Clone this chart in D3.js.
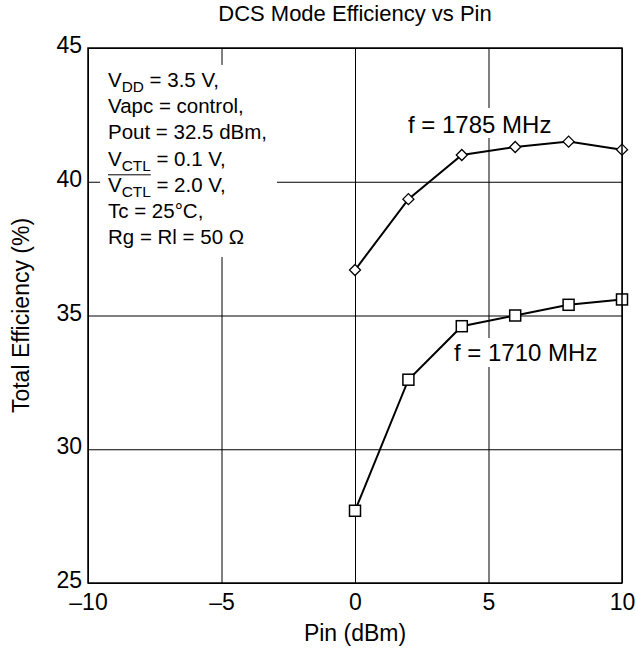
<!DOCTYPE html>
<html>
<head>
<meta charset="utf-8">
<script src="https://cdn.jsdelivr.net/npm/d3@7"></script>
<style>
  html, body { margin: 0; padding: 0; background: #fff; }
  svg { display: block; font-family: "Liberation Sans", Arial, Helvetica, sans-serif; }
</style>
</head>
<body>
<svg id="chart" width="635" height="649"></svg>
<script>
// ---- data ----
const pin = [0, 2, 4, 6, 8, 10];
const eff1785 = [36.7, 39.35, 41.0, 41.3, 41.5, 41.2];
const eff1710 = [27.7, 32.6, 34.6, 35.0, 35.4, 35.6];
const xTicks = [-10, -5, 0, 5, 10];
const yTicks = [25, 30, 35, 40, 45];
const seriesLabels = ["f = 1785 MHz", "f = 1710 MHz"];
const titleText = "DCS Mode Efficiency vs Pin";
const xTitle = "Pin (dBm)";
const yTitle = "Total Efficiency (%)";

const svg = d3.select("#chart");
const L = 88, R = 622, T = 48, B = 583;
const x = d3.scaleLinear().domain([-10, 10]).range([L, R]);
const y = d3.scaleLinear().domain([25, 45]).range([B, T]);
const fmt = d => (d < 0 ? "\u2013" + Math.abs(d) : String(d));

// grid
const gx = svg.append("g").attr("transform", `translate(0,${B})`)
  .call(d3.axisBottom(x).tickValues(xTicks).tickSize(-(B - T)).tickFormat(""));
gx.select(".domain").remove();
gx.selectAll("line").attr("stroke", "#000").attr("stroke-width", 1);
const gy = svg.append("g").attr("transform", `translate(${L},0)`)
  .call(d3.axisLeft(y).tickValues(yTicks).tickSize(-(R - L)).tickFormat(""));
gy.select(".domain").remove();
gy.selectAll("line").attr("stroke", "#000").attr("stroke-width", 1);

// white masks behind annotations
svg.append("rect").attr("x", 100).attr("y", 65).attr("width", 177).attr("height", 192).attr("fill", "#fff");
svg.append("rect").attr("x", 404).attr("y", 108).attr("width", 154).attr("height", 30).attr("fill", "#fff");
svg.append("rect").attr("x", 450).attr("y", 338).attr("width", 152).attr("height", 29).attr("fill", "#fff");

// axis tick labels
const ax = svg.append("g").attr("transform", `translate(0,${B})`)
  .call(d3.axisBottom(x).tickValues(xTicks).tickSize(0).tickPadding(11).tickFormat(fmt));
ax.select(".domain").remove();
ax.selectAll("text").attr("font-size", 23).attr("font-family", "Liberation Sans, Arial, sans-serif").attr("fill", "#000");
const ay = svg.append("g").attr("transform", `translate(${L},0)`)
  .call(d3.axisLeft(y).tickValues(yTicks).tickSize(0).tickPadding(6).tickFormat(fmt));
ay.select(".domain").remove();
ay.selectAll("text").attr("font-size", 23).attr("dy", "0.2em").attr("font-family", "Liberation Sans, Arial, sans-serif").attr("fill", "#000");

// series
const line = d3.line().x(d => x(d[0])).y(d => y(d[1]));
const d1785 = pin.map((p, i) => [p, eff1785[i]]);
const d1710 = pin.map((p, i) => [p, eff1710[i]]);
svg.append("path").datum(d1785).attr("d", line).attr("fill", "none").attr("stroke", "#000").attr("stroke-width", 2);
svg.append("path").datum(d1710).attr("d", line).attr("fill", "none").attr("stroke", "#000").attr("stroke-width", 2);

svg.append("g").selectAll("path").data(d1785).join("path")
  .attr("transform", d => `translate(${x(d[0])},${y(d[1])})`)
  .attr("d", "M0,-5.5L5.5,0L0,5.5L-5.5,0Z")
  .attr("fill", "#fff").attr("stroke", "#000").attr("stroke-width", 1.3);
svg.append("g").selectAll("rect").data(d1710).join("rect")
  .attr("x", d => x(d[0]) - 5.5).attr("y", d => y(d[1]) - 5.5)
  .attr("width", 11).attr("height", 11)
  .attr("fill", "#fff").attr("stroke", "#000").attr("stroke-width", 1.5);

// series labels
svg.append("text").attr("x", 408).attr("y", 133).attr("font-size", 24).text(seriesLabels[0]);
svg.append("text").attr("x", 454).attr("y", 361).attr("font-size", 24).text(seriesLabels[1]);

// conditions box
const bx = 108, by0 = 87, lh = 26.2, fs = 20.5;
const box = svg.append("g").attr("font-size", fs);
function addLine(i, parts) {
  const t = box.append("text").attr("x", bx).attr("y", by0 + i * lh);
  parts.forEach(p => {
    const ts = t.append("tspan").text(p.t);
    if (p.sub) ts.attr("font-size", fs * 0.75).attr("dy", 5);
    else if (p.after) ts.attr("dy", -5);
  });
  return t;
}
addLine(0, [{t: "V"}, {t: "DD", sub: true}, {t: " = 3.5 V,", after: true}]);
addLine(1, [{t: "Vapc = control,"}]);
addLine(2, [{t: "Pout = 32.5 dBm,"}]);
addLine(3, [{t: "V"}, {t: "CTL", sub: true}, {t: " = 0.1 V,", after: true}]);
const t5 = addLine(4, [{t: "V"}, {t: "CTL", sub: true}, {t: " = 2.0 V,", after: true}]);
addLine(5, [{t: "Tc = 25\u00B0C,"}]);
addLine(6, [{t: "Rg = Rl = 50 \u03A9"}]);
const barW = t5.node().getSubStringLength(0, 4);
svg.append("line").attr("x1", bx).attr("x2", bx + barW)
  .attr("y1", by0 + 4 * lh - 17).attr("y2", by0 + 4 * lh - 17)
  .attr("stroke", "#000").attr("stroke-width", 1);

// frame
svg.append("rect").attr("x", L).attr("y", T).attr("width", R - L).attr("height", B - T)
  .attr("fill", "none").attr("stroke", "#000").attr("stroke-width", 1.5);

// titles
svg.append("text").attr("x", (L + R) / 2).attr("y", 21).attr("text-anchor", "middle").attr("font-size", 22).text(titleText);
svg.append("text").attr("x", (L + R) / 2).attr("y", 641).attr("text-anchor", "middle").attr("font-size", 23).text(xTitle);
svg.append("text").attr("transform", `translate(29,${(T + B) / 2}) rotate(-90)`).attr("text-anchor", "middle").attr("font-size", 23).text(yTitle);
</script>
</body>
</html>
